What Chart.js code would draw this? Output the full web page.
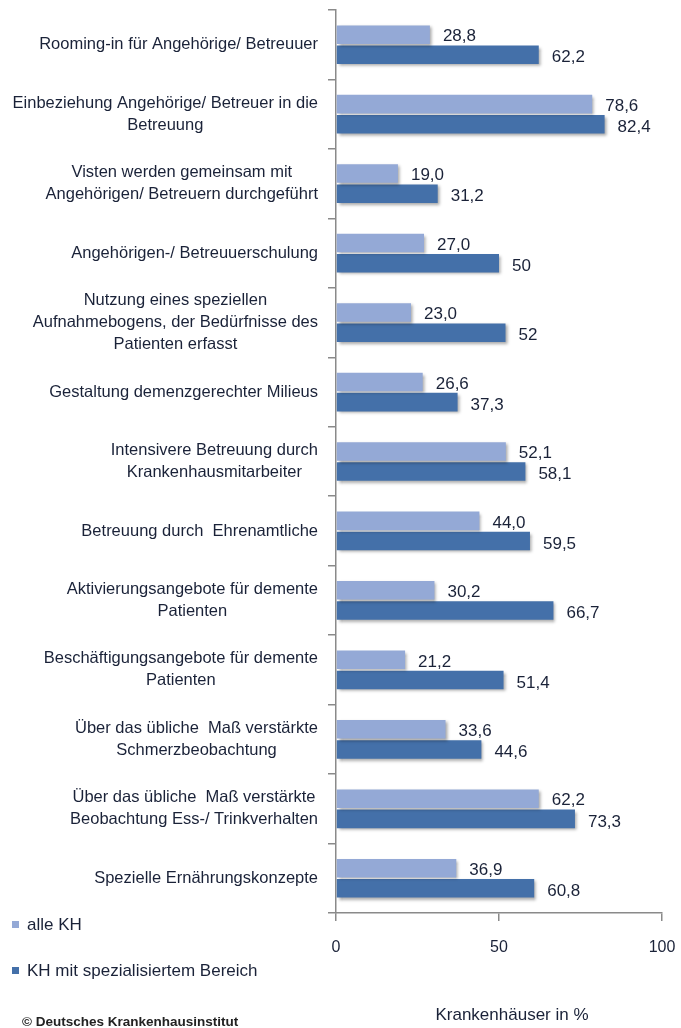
<!DOCTYPE html>
<html lang="de">
<head>
    <meta charset="UTF-8">
    <title>Maßnahmen für demente Patienten</title>
    <script src="https://cdn.jsdelivr.net/npm/chart.js"></script>
    <style>
        html, body {
            margin: 0;
            padding: 0;
            background: #ffffff;
        }
        canvas {
            display: block;
        }
    </style>
</head>
<body>
    <canvas id="massnahmenChart" width="681" height="1028"></canvas>

    <script>
        // categories (multi-line labels as in the original)
        const categories = [
            ['Rooming-in für Angehörige/ Betreuuer'],
            ['Einbeziehung Angehörige/ Betreuer in die', 'Betreuung'],
            ['Visten werden gemeinsam mit', 'Angehörigen/ Betreuern durchgeführt'],
            ['Angehörigen-/ Betreuuerschulung'],
            ['Nutzung eines speziellen', 'Aufnahmebogens, der Bedürfnisse des', 'Patienten erfasst'],
            ['Gestaltung demenzgerechter Milieus'],
            ['Intensivere Betreuung durch', 'Krankenhausmitarbeiter'],
            ['Betreuung durch  Ehrenamtliche'],
            ['Aktivierungsangebote für demente', 'Patienten'],
            ['Beschäftigungsangebote für demente', 'Patienten'],
            ['Über das übliche  Maß verstärkte', 'Schmerzbeobachtung'],
            ['Über das übliche  Maß verstärkte', 'Beobachtung Ess-/ Trinkverhalten'],
            ['Spezielle Ernährungskonzepte']
        ];

        const seriesNames = ['alle KH', 'KH mit spezialisiertem Bereich'];

        const alleKH = [28.8, 78.6, 19.0, 27.0, 23.0, 26.6, 52.1, 44.0, 30.2, 21.2, 33.6, 62.2, 36.9];
        const spezialKH = [62.2, 82.4, 31.2, 50, 52, 37.3, 58.1, 59.5, 66.7, 51.4, 44.6, 73.3, 60.8];

        // value labels as printed in the original
        const alleKHLabels = ['28,8', '78,6', '19,0', '27,0', '23,0', '26,6', '52,1', '44,0', '30,2', '21,2', '33,6', '62,2', '36,9'];
        const spezialKHLabels = ['62,2', '82,4', '31,2', '50', '52', '37,3', '58,1', '59,5', '66,7', '51,4', '44,6', '73,3', '60,8'];

        const xTicks = [0, 50, 100];
        const axisTitle = 'Krankenhäuser in %';
        const footerText = '© Deutsches Krankenhausinstitut';

        const lightBlue = '#94a9d6';
        const darkBlue = '#4470a9';
        const textColor = '#1a2238';
        const axisColor = '#8a8a8a';
        const fontFamily = '"Liberation Sans", Arial, sans-serif';

        // soft drop shadow under the bars
        const barShadow = {
            id: 'barShadow',
            beforeDatasetsDraw(chart) {
                const ctx = chart.ctx;
                ctx.save();
                ctx.shadowColor = 'rgba(0, 0, 0, 0.35)';
                ctx.shadowBlur = 3;
                ctx.shadowOffsetX = 2;
                ctx.shadowOffsetY = 2;
            },
            afterDatasetsDraw(chart) {
                chart.ctx.restore();
            }
        };

        // value labels next to the bar ends
        const valueLabels = {
            id: 'valueLabels',
            afterDatasetsDraw(chart) {
                const ctx = chart.ctx;
                const texts = [alleKHLabels, spezialKHLabels];
                const yShift = [2, 3];
                ctx.save();
                ctx.font = '17px ' + fontFamily;
                ctx.fillStyle = textColor;
                ctx.textAlign = 'left';
                ctx.textBaseline = 'middle';
                chart.data.datasets.forEach((ds, i) => {
                    chart.getDatasetMeta(i).data.forEach((bar, j) => {
                        ctx.fillText(texts[i][j], bar.x + 13, bar.y + yShift[i]);
                    });
                });
                ctx.restore();
            }
        };

        // category labels: block right-aligned at the axis, lines centred inside the block
        const categoryLabels = {
            id: 'categoryLabels',
            afterDraw(chart) {
                const ctx = chart.ctx;
                const yScale = chart.scales.y;
                const rightEdge = yScale.right - 18;
                const lineGap = 22;
                ctx.save();
                ctx.font = '16.5px ' + fontFamily;
                ctx.fillStyle = textColor;
                ctx.textAlign = 'center';
                ctx.textBaseline = 'middle';
                chart.data.labels.forEach((lines, i) => {
                    const y = yScale.getPixelForTick(i);
                    const w = Math.max(...lines.map(l => ctx.measureText(l).width));
                    const cx = rightEdge - w / 2;
                    const y0 = y - (lines.length - 1) * lineGap / 2;
                    lines.forEach((line, k) => {
                        ctx.fillText(line, cx, y0 + k * lineGap);
                    });
                });
                ctx.restore();
            }
        };

        // legend, axis title and footer in the lower part
        const extras = {
            id: 'extras',
            afterDraw(chart) {
                const ctx = chart.ctx;
                ctx.save();
                ctx.textBaseline = 'middle';
                ctx.textAlign = 'left';
                ctx.font = '17px ' + fontFamily;
                const legendY = [924, 970];
                const legendCol = [lightBlue, darkBlue];
                seriesNames.forEach((name, i) => {
                    ctx.fillStyle = legendCol[i];
                    ctx.fillRect(12, legendY[i] - 3, 7, 7);
                    ctx.fillStyle = textColor;
                    ctx.fillText(name, 27, legendY[i] + 1);
                });

                ctx.textAlign = 'center';
                ctx.fillText(axisTitle, 512, 1015);

                ctx.textAlign = 'left';
                ctx.font = 'bold 13.5px ' + fontFamily;
                ctx.fillStyle = '#222222';
                ctx.fillText(footerText, 22, 1022);
                ctx.restore();
            }
        };

        const ctx = document.getElementById('massnahmenChart').getContext('2d');
        new Chart(ctx, {
            type: 'bar',
            data: {
                labels: categories,
                datasets: [
                    {
                        label: seriesNames[0],
                        data: alleKH,
                        backgroundColor: lightBlue,
                        categoryPercentage: 0.58,
                        barPercentage: 0.92
                    },
                    {
                        label: seriesNames[1],
                        data: spezialKH,
                        backgroundColor: darkBlue,
                        categoryPercentage: 0.58,
                        barPercentage: 0.92
                    }
                ]
            },
            options: {
                indexAxis: 'y',
                responsive: false,
                animation: false,
                layout: {
                    padding: { top: 10, right: 19, bottom: 0, left: 0 }
                },
                plugins: {
                    legend: { display: false },
                    tooltip: { enabled: false }
                },
                scales: {
                    x: {
                        min: 0,
                        max: 100,
                        afterFit(scale) {
                            scale.height = 115;
                            scale.paddingLeft = 0;
                            scale.paddingRight = 0;
                        },
                        afterBuildTicks(scale) {
                            scale.ticks = xTicks.map(v => ({ value: v }));
                        },
                        grid: {
                            drawOnChartArea: false,
                            tickLength: 8,
                            color: axisColor,
                            lineWidth: 1.5
                        },
                        border: { color: axisColor, width: 1.5 },
                        ticks: {
                            padding: 17,
                            color: textColor,
                            font: { family: fontFamily, size: 16 }
                        }
                    },
                    y: {
                        afterFit(scale) {
                            scale.width = 336;
                            scale.paddingTop = 0;
                            scale.paddingBottom = 0;
                        },
                        grid: {
                            offset: true,
                            drawOnChartArea: false,
                            tickLength: 8,
                            color: axisColor,
                            lineWidth: 1.5
                        },
                        border: { color: axisColor, width: 1.5 },
                        ticks: { display: false }
                    }
                }
            },
            plugins: [barShadow, valueLabels, categoryLabels, extras]
        });
    </script>
</body>
</html>
